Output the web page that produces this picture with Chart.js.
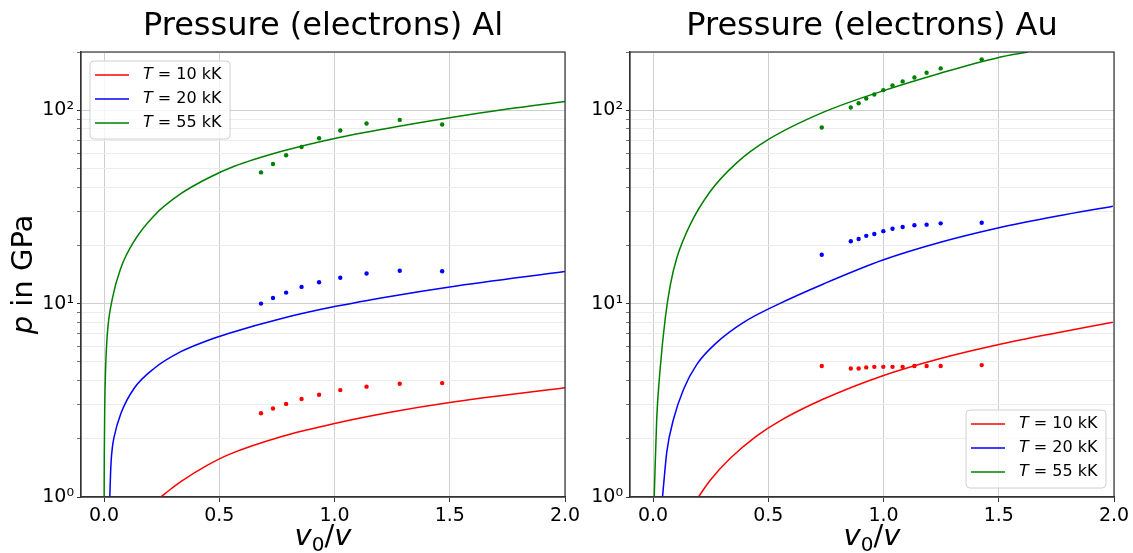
<!DOCTYPE html>
<html>
<head>
<meta charset="utf-8">
<script src="https://cdn.jsdelivr.net/npm/chart.js@4.4.1/dist/chart.umd.min.js"></script>
<style>
  body { margin: 0; background: #fff; }
  .box { position: absolute; top: 0; }
  #left { left: 0; }
  #right { left: 590px; }
</style>
</head>
<body>
<div class="box" id="left"><canvas id="alChart" width="590" height="553"></canvas></div>
<div class="box" id="right"><canvas id="auChart" width="543" height="553"></canvas></div>
<script>
// axis ticks
const xTicks = [0, 0.5, 1.0, 1.5, 2.0];
const yTicks = [1, 2, 3, 4, 5, 6, 7, 8, 9, 10, 20, 30, 40, 50, 60, 70, 80, 90, 100, 200];
const yTickLabels = { 1: '10\u2070', 10: '10\u00b9', 100: '10\u00b2' };
const temps = ['10', '20', '55'];

// Al: model curves (v0/v, p in GPa)
const alLineX10 = [0.246, 0.29, 0.333, 0.449, 0.543, 0.775, 1.0, 1.254, 1.5, 2.0];
const alLineP10 = [1.0, 1.10, 1.20, 1.46, 1.66, 2.06, 2.40, 2.76, 3.08, 3.67];
const alLineX20 = [0.025, 0.028, 0.031, 0.036, 0.043, 0.073, 0.13, 0.217, 0.333, 0.45, 0.543, 0.775, 1.0, 1.254, 1.5, 2.0];
const alLineP20 = [1.0, 1.3, 1.55, 1.8, 2.03, 2.70, 3.64, 4.62, 5.64, 6.45, 7.03, 8.4, 9.65, 10.96, 12.2, 14.65];
const alLineX55 = [0.0004, 0.001, 0.003, 0.007, 0.014, 0.036, 0.073, 0.13, 0.217, 0.333, 0.45, 0.565, 0.775, 1.0, 1.25, 1.5, 1.75, 2.0];
const alLineP55 = [1.0, 1.6, 2.9, 4.7, 6.9, 10.6, 15.3, 21.0, 28.5, 37.0, 44.5, 51.3, 61.5, 71.5, 81.5, 91.5, 101.5, 111];

// Al: simulation points
const alDotX = [0.681, 0.733, 0.790, 0.857, 0.933, 1.025, 1.139, 1.283, 1.467];
const alDot10 = [2.71, 2.87, 3.03, 3.21, 3.38, 3.57, 3.72, 3.85, 3.88];
const alDot20 = [10.0, 10.7, 11.4, 12.2, 12.9, 13.6, 14.3, 14.8, 14.7];
const alDot55 = [47.7, 52.7, 58.5, 64.5, 71.6, 78.5, 85.3, 89.1, 84.3];

// Au: model curves
const auLineX10 = [0.197, 0.248, 0.335, 0.450, 0.549, 0.737, 0.997, 1.243, 1.496, 1.749, 1.995];
const auLineP10 = [1.0, 1.22, 1.585, 2.07, 2.47, 3.2, 4.24, 5.19, 6.13, 7.05, 8.0];
const auLineX20 = [0.041, 0.060, 0.089, 0.132, 0.190, 0.277, 0.393, 0.549, 0.737, 0.997, 1.243, 1.496, 1.749, 1.995];
const auLineP20 = [1.0, 1.72, 2.53, 3.6, 4.85, 6.3, 8.0, 10.0, 12.6, 16.8, 20.7, 24.6, 28.3, 31.9];
const auLineX55 = [0.005, 0.016, 0.031, 0.053, 0.075, 0.103, 0.161, 0.248, 0.364, 0.494, 0.737, 0.997, 1.243, 1.496, 1.626];
const auLineP55 = [1.0, 2.55, 4.62, 8.4, 12.5, 17.2, 25.6, 38.0, 53.6, 69.8, 97.4, 125.9, 155, 187, 200];

// Au: simulation points
const auDotX = [0.732, 0.858, 0.892, 0.925, 0.960, 0.999, 1.039, 1.083, 1.134, 1.187, 1.248, 1.426];
const auDot10 = [4.76, 4.62, 4.62, 4.68, 4.71, 4.71, 4.71, 4.71, 4.76, 4.76, 4.76, 4.81];
const auDot20 = [17.9, 21.0, 21.6, 22.4, 22.9, 23.7, 24.4, 24.9, 25.4, 25.6, 26.0, 26.2];
const auDot55 = [81.4, 103.3, 108.7, 115.0, 120.6, 127.0, 134.3, 140.9, 147.7, 156.1, 164.5, 183.2];

const colors = ['#ff0000', '#0000ff', '#008000'];
const FONT = 'DejaVu Sans';

function pts(xs, ys) {
    return xs.map((x, i) => ({ x: x, y: ys[i] }));
}

function makeDatasets(lines, dotX, dots) {
    let sets = [];
    for (var i = 0; i < lines.length; i++) {
        sets.push({
            label: 'T = ' + temps[i] + ' kK',
            data: pts(lines[i][0], lines[i][1]),
            showLine: true,
            borderColor: colors[i],
            borderWidth: 1.5,
            pointRadius: 0,
            cubicInterpolationMode: 'monotone'
        });
    }
    for (var i = 0; i < dots.length; i++) {
        sets.push({
            data: pts(dotX, dots[i]),
            showLine: false,
            backgroundColor: colors[i],
            borderWidth: 0,
            pointRadius: 2.2
        });
    }
    return sets;
}

// titles, axis labels, legend and frame, drawn with mixed italic text
const decor = {
    id: 'decor',
    afterDraw(chart, args, opts) {
        const ctx = chart.ctx;
        const a = chart.chartArea;
        ctx.save();
        ctx.strokeStyle = '#333';
        ctx.lineWidth = 1.2;
        ctx.strokeRect(a.left, a.top, a.right - a.left, a.bottom - a.top);

        ctx.fillStyle = '#000';
        ctx.textBaseline = 'alphabetic';
        ctx.textAlign = 'center';
        ctx.font = '32px "' + FONT + '"';
        ctx.fillText(opts.title, (a.left + a.right) / 2, 35);

        // x label v0/v
        ctx.textAlign = 'left';
        const it = 'italic 29px "' + FONT + '"', up = '29px "' + FONT + '"', sub = '20px "' + FONT + '"';
        ctx.font = it; const wv = ctx.measureText('v').width;
        ctx.font = sub; const w0 = ctx.measureText('0').width;
        ctx.font = up; const ws = ctx.measureText('/').width;
        let x0 = (a.left + a.right) / 2 - (2 * wv + w0 + ws) / 2;
        const by = 545;
        ctx.font = it; ctx.fillText('v', x0, by); x0 += wv;
        ctx.font = sub; ctx.fillText('0', x0, by + 6); x0 += w0;
        ctx.font = up; ctx.fillText('/', x0, by); x0 += ws;
        ctx.font = it; ctx.fillText('v', x0, by);

        if (opts.yLabel) {
            ctx.save();
            ctx.translate(32, (a.top + a.bottom) / 2);
            ctx.rotate(-Math.PI / 2);
            ctx.font = it; const wp = ctx.measureText('p').width;
            ctx.font = up; const wr = ctx.measureText(' in GPa').width;
            let s = -(wp + wr) / 2;
            ctx.font = it; ctx.fillText('p', s, 0);
            ctx.font = up; ctx.fillText(' in GPa', s + wp, 0);
            ctx.restore();
        }

        // legend box
        const bw = 140, bh = 78;
        let bx, byy;
        if (opts.legend === 'ul') { bx = a.left + 9; byy = a.top + 9; }
        else { bx = a.right - 8 - bw; byy = a.bottom - 9 - bh; }
        ctx.beginPath();
        ctx.roundRect(bx, byy, bw, bh, 4);
        ctx.fillStyle = 'rgba(255,255,255,0.8)';
        ctx.fill();
        ctx.strokeStyle = '#d0d0d0';
        ctx.lineWidth = 1;
        ctx.stroke();
        ctx.textBaseline = 'middle';
        for (var i = 0; i < temps.length; i++) {
            const ry = byy + 14 + i * 24;
            ctx.strokeStyle = colors[i];
            ctx.lineWidth = 1.5;
            ctx.beginPath();
            ctx.moveTo(bx + 5, ry);
            ctx.lineTo(bx + 39, ry);
            ctx.stroke();
            ctx.fillStyle = '#000';
            ctx.font = 'italic 16px "' + FONT + '"';
            ctx.fillText('T', bx + 53, ry);
            const wt = ctx.measureText('T').width;
            ctx.font = '16px "' + FONT + '"';
            ctx.fillText(' = ' + temps[i] + ' kK', bx + 53 + wt, ry);
        }
        ctx.restore();
    }
};

function makeOptions(title, yWidth, padRight, legendPos, yLabel) {
    return {
        responsive: false,
        animation: false,
        layout: { padding: { top: 52, right: padRight, left: 0, bottom: 0 } },
        plugins: {
            legend: { display: false },
            title: { display: false },
            tooltip: { enabled: false },
            decor: { title: title, legend: legendPos, yLabel: yLabel }
        },
        scales: {
            x: {
                type: 'linear',
                min: -0.1,
                max: 2.0,
                afterBuildTicks: s => { s.ticks = xTicks.map(v => ({ value: v })); },
                afterFit: s => { s.height = 56; },
                ticks: {
                    autoSkip: false,
                    maxRotation: 0,
                    padding: 3,
                    color: '#000',
                    font: { family: FONT, size: 19 },
                    callback: v => v.toFixed(1)
                },
                grid: { color: '#cfcfcf', lineWidth: 1, tickLength: 5, tickColor: '#333' },
                border: { color: '#333', width: 1.2 }
            },
            y: {
                type: 'logarithmic',
                min: 1,
                max: 200,
                afterBuildTicks: s => { s.ticks = yTicks.map(v => ({ value: v })); },
                afterFit: s => { s.width = yWidth; },
                ticks: {
                    autoSkip: false,
                    padding: 3,
                    color: '#000',
                    font: { family: FONT, size: 19 },
                    callback: v => yTickLabels[v] || ''
                },
                grid: {
                    color: c => (yTickLabels[c.tick.value] ? '#cfcfcf' : '#ececec'),
                    lineWidth: 1,
                    tickLength: 4,
                    tickColor: '#333',
                    tickWidth: c => (yTickLabels[c.tick.value] ? 1 : 0.7)
                },
                border: { color: '#333', width: 1.2 }
            }
        }
    };
}

new Chart(document.getElementById('alChart'), {
    type: 'scatter',
    data: {
        datasets: makeDatasets(
            [[alLineX10, alLineP10], [alLineX20, alLineP20], [alLineX55, alLineP55]],
            alDotX, [alDot10, alDot20, alDot55])
    },
    options: makeOptions('Pressure (electrons) Al', 81, 25, 'ul', true),
    plugins: [decor]
});

new Chart(document.getElementById('auChart'), {
    type: 'scatter',
    data: {
        datasets: makeDatasets(
            [[auLineX10, auLineP10], [auLineX20, auLineP20], [auLineX55, auLineP55]],
            auDotX, [auDot10, auDot20, auDot55])
    },
    options: makeOptions('Pressure (electrons) Au', 40, 19, 'lr', false),
    plugins: [decor]
});
</script>
</body>
</html>
